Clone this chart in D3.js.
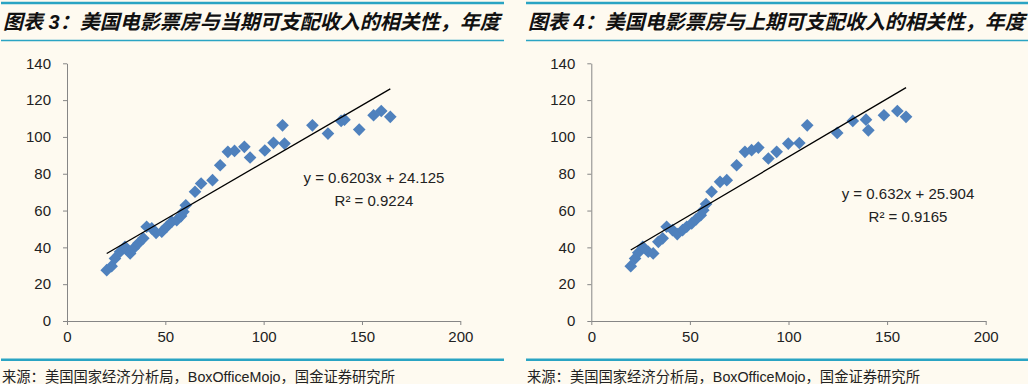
<!DOCTYPE html>
<html>
<head>
<meta charset="utf-8">
<script src="https://cdn.jsdelivr.net/npm/d3@7"></script>
<style>
  body { margin: 0; background: #fefaf0; }
  svg { display: block; }
  text { font-family: "Liberation Sans", Arial, "Noto Sans CJK SC", sans-serif; }
</style>
</head>
<body>
<div id="chart"></div>
<script>
//Chart data
var titles = ["图表 3：美国电影票房与当期可支配收入的相关性，年度",
              "图表 4：美国电影票房与上期可支配收入的相关性，年度"];
var source = "来源：美国国家经济分析局，BoxOfficeMojo，国金证券研究所";

var xTicks = [0, 50, 100, 150, 200];
var yTicks = [0, 20, 40, 60, 80, 100, 120, 140];

//Chart 3: current period income vs box office
var incomeNow = [20.2, 22.7, 24.4, 27, 29.5, 32.1, 33.8, 36.3, 38.8, 40.5, 43.1, 45.3, 48.2,
                 50.7, 53.3, 55.8, 58, 59.2, 60.4, 65.1, 68.2, 74, 77.9, 81.8, 85.2, 90.2,
                 93.1, 100.6, 105, 109.6, 110.6, 124.8, 132.7, 139.4, 141.1, 148.6, 155.9,
                 159.8, 164.4];
var boxNow = [27.6, 29.8, 34, 37.6, 40.3, 36.7, 39.4, 42.2, 44.9, 51.2, 50.3, 47.9, 48.5,
              51.2, 53.9, 54.8, 57, 59.3, 62.9, 70.2, 74.7, 76.5, 84.6, 91.9, 92.4, 94.6,
              88.8, 92.6, 96.8, 106.3, 96.4, 106.3, 101.8, 108.7, 109.4, 104, 111.8,
              114.1, 110.9];
var fitNow = {slope: 0.6203, intercept: 24.125, label: "y = 0.6203x + 24.125", r2: "R² = 0.9224"};

//Chart 4: previous period income vs box office
var incomePrev = [20, 22.2, 23.8, 26.1, 28.9, 31.4, 34, 36.2, 38.2, 41.2, 43.6, 46.3, 48.4,
                  50.9, 53.1, 55.5, 56.8, 58.2, 61, 65.3, 68.7, 73.7, 77.9, 81.3, 84.7,
                  89.8, 94, 99.9, 105.5, 109.5, 124.7, 132.6, 139.3, 140.5, 148.4, 155.2,
                  159.6];
var boxPrev = [29.8, 34, 37.1, 40.3, 37.6, 36.7, 43, 44.9, 51.2, 49.4, 47.2, 49.4, 51.2,
               53, 55.2, 57.5, 60.2, 63.5, 70.2, 75.6, 76.5, 84.6, 91.9, 92.8, 94.2,
               88.3, 91.9, 96.4, 96.7, 106.3, 102.2, 108.7, 109.4, 103.6, 111.8, 114.1,
               110.9];
var fitPrev = {slope: 0.632, intercept: 25.904, label: "y = 0.632x + 25.904", r2: "R² = 0.9165"};

var W = 1028, H = 384;
var teal = "#2aa4c3";
var blue = "#4f81bd";
var axisGrey = "#868686";

var svg = d3.select("#chart")
    .append("svg")
    .attr("width", W)
    .attr("height", H);

svg.append("rect")
    .attr("width", W)
    .attr("height", H)
    .attr("fill", "#fefaf0");

//Draw one panel: header, scatter, trend line, equation, source
function drawPanel(p) {
  var g = svg.append("g");

  //header rules and title
  g.append("line").attr("x1", p.left).attr("x2", p.right).attr("y1", 3).attr("y2", 3)
    .attr("stroke", teal).attr("stroke-width", 2.5);
  g.append("line").attr("x1", p.left).attr("x2", p.right).attr("y1", 40.5).attr("y2", 40.5)
    .attr("stroke", teal).attr("stroke-width", 1.5);
  g.append("text")
    .attr("x", p.left + 2)
    .attr("y", 29)
    .attr("font-size", 20)
    .attr("font-weight", "bold")
    .attr("font-style", "italic")
    .attr("fill", "#111")
    .text(p.title);

  //scales
  var x = d3.scaleLinear().domain([0, 200]).range([p.x0, p.x1]);
  var y = d3.scaleLinear().domain([0, 140]).range([321, 63.3]);

  var xAxis = g.append("g")
    .attr("transform", "translate(0," + y(0) + ")")
    .call(d3.axisBottom(x).tickValues(xTicks).tickSize(4).tickSizeOuter(0).tickPadding(6));
  var yAxis = g.append("g")
    .attr("transform", "translate(" + x(0) + ",0)")
    .call(d3.axisLeft(y).tickValues(yTicks).tickSize(4).tickSizeOuter(0).tickPadding(12));

  [xAxis, yAxis].forEach(function(a) {
    a.select(".domain").attr("stroke", axisGrey);
    a.selectAll(".tick line").attr("stroke", axisGrey);
    a.selectAll(".tick text")
      .attr("font-size", 15)
      .attr("fill", "#222")
      .style("font-family", "'Liberation Sans', Arial, sans-serif");
  });

  //markers
  var pts = p.xs.map(function(v, i) { return [v, p.ys[i]]; });
  g.selectAll("path.pt")
    .data(pts)
    .enter()
    .append("path")
    .attr("class", "pt")
    .attr("d", d3.symbol().type(d3.symbolSquare).size(80))
    .attr("transform", function(d) {
      return "translate(" + x(d[0]) + "," + y(d[1]) + ") rotate(45)";
    })
    .attr("fill", blue);

  //linear trend line over the data range
  var xMin = d3.min(p.xs), xMax = d3.max(p.xs);
  g.append("line")
    .attr("x1", x(xMin)).attr("y1", y(p.fit.slope * xMin + p.fit.intercept))
    .attr("x2", x(xMax)).attr("y2", y(p.fit.slope * xMax + p.fit.intercept))
    .attr("stroke", "#000")
    .attr("stroke-width", 1.3);

  //equation text
  g.append("text")
    .attr("x", p.eqX).attr("y", p.eqY)
    .attr("text-anchor", "middle")
    .attr("font-size", 15)
    .attr("fill", "#222")
    .text(p.fit.label);
  g.append("text")
    .attr("x", p.eqX).attr("y", p.eqY + 23)
    .attr("text-anchor", "middle")
    .attr("font-size", 15)
    .attr("fill", "#222")
    .text(p.fit.r2);

  //footer
  g.append("line").attr("x1", p.left).attr("x2", p.right).attr("y1", 359.7).attr("y2", 359.7)
    .attr("stroke", teal).attr("stroke-width", 2.5);
  g.append("text")
    .attr("x", p.left + 1)
    .attr("y", 382)
    .attr("font-size", 14.3)
    .attr("fill", "#222")
    .text(source);
}

drawPanel({left: 1, right: 504, x0: 67, x1: 460.3, title: titles[0],
           xs: incomeNow, ys: boxNow, fit: fitNow, eqX: 374, eqY: 183});
drawPanel({left: 526, right: 1028, x0: 591.3, x1: 985.7, title: titles[1],
           xs: incomePrev, ys: boxPrev, fit: fitPrev, eqX: 908, eqY: 199});
</script>
</body>
</html>
